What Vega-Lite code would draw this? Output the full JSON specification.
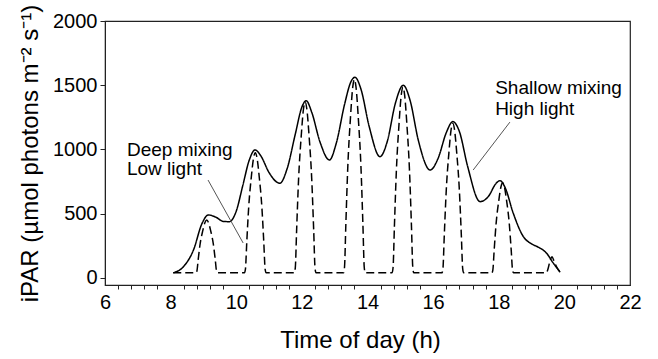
{
  "$schema": "https://vega.github.io/schema/vega-lite/v6.json",
  "width": 525,
  "height": 264,
  "autosize": {"type": "none"},
  "padding": {"left": 105, "top": 21, "right": 28, "bottom": 74},
  "background": "white",
  "config": {
    "view": {"stroke": "#222", "strokeWidth": 1.2},
    "font": "Liberation Sans",
    "axis": {
      "labelFont": "Liberation Sans",
      "titleFont": "Liberation Sans",
      "labelColor": "#000",
      "titleColor": "#000",
      "domainColor": "#222",
      "tickColor": "#222",
      "titleFontWeight": "normal",
      "grid": false
    }
  },
  "resolve": {"axis": {"x": "independent"}},
  "datasets": {
    "curves": [
      {"t": 8.08, "v": 40, "s": "shallow"},
      {"t": 8.4, "v": 90, "s": "shallow"},
      {"t": 8.7, "v": 220, "s": "shallow"},
      {"t": 8.95, "v": 420, "s": "shallow"},
      {"t": 9.15, "v": 490, "s": "shallow"},
      {"t": 9.4, "v": 470, "s": "shallow"},
      {"t": 9.6, "v": 440, "s": "shallow"},
      {"t": 9.79, "v": 438, "s": "shallow"},
      {"t": 10.0, "v": 520, "s": "shallow"},
      {"t": 10.2, "v": 720, "s": "shallow"},
      {"t": 10.4, "v": 920, "s": "shallow"},
      {"t": 10.57, "v": 996, "s": "shallow"},
      {"t": 10.75, "v": 950, "s": "shallow"},
      {"t": 11.0, "v": 820, "s": "shallow"},
      {"t": 11.33, "v": 737, "s": "shallow"},
      {"t": 11.55, "v": 850, "s": "shallow"},
      {"t": 11.8, "v": 1120, "s": "shallow"},
      {"t": 12.0, "v": 1330, "s": "shallow"},
      {"t": 12.13, "v": 1380, "s": "shallow"},
      {"t": 12.3, "v": 1290, "s": "shallow"},
      {"t": 12.55, "v": 1060, "s": "shallow"},
      {"t": 12.84, "v": 918, "s": "shallow"},
      {"t": 13.05, "v": 1050, "s": "shallow"},
      {"t": 13.3, "v": 1350, "s": "shallow"},
      {"t": 13.5, "v": 1530, "s": "shallow"},
      {"t": 13.62, "v": 1562, "s": "shallow"},
      {"t": 13.8, "v": 1470, "s": "shallow"},
      {"t": 14.05, "v": 1180, "s": "shallow"},
      {"t": 14.38, "v": 944, "s": "shallow"},
      {"t": 14.6, "v": 1060, "s": "shallow"},
      {"t": 14.85, "v": 1360, "s": "shallow"},
      {"t": 15.09, "v": 1500, "s": "shallow"},
      {"t": 15.3, "v": 1380, "s": "shallow"},
      {"t": 15.55, "v": 1070, "s": "shallow"},
      {"t": 15.91, "v": 840, "s": "shallow"},
      {"t": 16.15, "v": 930, "s": "shallow"},
      {"t": 16.4, "v": 1130, "s": "shallow"},
      {"t": 16.6, "v": 1217, "s": "shallow"},
      {"t": 16.8, "v": 1140, "s": "shallow"},
      {"t": 17.05, "v": 870, "s": "shallow"},
      {"t": 17.43, "v": 594, "s": "shallow"},
      {"t": 17.7, "v": 640, "s": "shallow"},
      {"t": 17.9, "v": 730, "s": "shallow"},
      {"t": 18.04, "v": 757, "s": "shallow"},
      {"t": 18.2, "v": 700, "s": "shallow"},
      {"t": 18.44, "v": 505, "s": "shallow"},
      {"t": 18.75, "v": 322, "s": "shallow"},
      {"t": 19.0, "v": 265, "s": "shallow"},
      {"t": 19.2, "v": 240, "s": "shallow"},
      {"t": 19.46, "v": 192, "s": "shallow"},
      {"t": 19.65, "v": 120, "s": "shallow"},
      {"t": 19.87, "v": 45, "s": "shallow"},

      {"t": 8.08, "v": 40, "s": "deep"},
      {"t": 8.77, "v": 40, "s": "deep"},
      {"t": 8.8, "v": 52, "s": "deep"},
      {"t": 8.84, "v": 142, "s": "deep"},
      {"t": 8.9, "v": 266, "s": "deep"},
      {"t": 8.98, "v": 368, "s": "deep"},
      {"t": 9.05, "v": 434, "s": "deep"},
      {"t": 9.1, "v": 450, "s": "deep"},
      {"t": 9.15, "v": 434, "s": "deep"},
      {"t": 9.22, "v": 368, "s": "deep"},
      {"t": 9.3, "v": 266, "s": "deep"},
      {"t": 9.36, "v": 142, "s": "deep"},
      {"t": 9.4, "v": 52, "s": "deep"},
      {"t": 9.43, "v": 40, "s": "deep"},
      {"t": 10.25, "v": 40, "s": "deep"},
      {"t": 10.28, "v": 68, "s": "deep"},
      {"t": 10.32, "v": 274, "s": "deep"},
      {"t": 10.38, "v": 554, "s": "deep"},
      {"t": 10.46, "v": 788, "s": "deep"},
      {"t": 10.53, "v": 938, "s": "deep"},
      {"t": 10.58, "v": 975, "s": "deep"},
      {"t": 10.63, "v": 938, "s": "deep"},
      {"t": 10.7, "v": 788, "s": "deep"},
      {"t": 10.78, "v": 554, "s": "deep"},
      {"t": 10.84, "v": 274, "s": "deep"},
      {"t": 10.88, "v": 68, "s": "deep"},
      {"t": 10.91, "v": 40, "s": "deep"},
      {"t": 11.77, "v": 40, "s": "deep"},
      {"t": 11.8, "v": 80, "s": "deep"},
      {"t": 11.84, "v": 372, "s": "deep"},
      {"t": 11.9, "v": 771, "s": "deep"},
      {"t": 11.98, "v": 1104, "s": "deep"},
      {"t": 12.05, "v": 1317, "s": "deep"},
      {"t": 12.1, "v": 1370, "s": "deep"},
      {"t": 12.15, "v": 1317, "s": "deep"},
      {"t": 12.22, "v": 1104, "s": "deep"},
      {"t": 12.3, "v": 771, "s": "deep"},
      {"t": 12.36, "v": 372, "s": "deep"},
      {"t": 12.4, "v": 80, "s": "deep"},
      {"t": 12.43, "v": 40, "s": "deep"},
      {"t": 13.27, "v": 40, "s": "deep"},
      {"t": 13.3, "v": 85, "s": "deep"},
      {"t": 13.34, "v": 416, "s": "deep"},
      {"t": 13.4, "v": 868, "s": "deep"},
      {"t": 13.48, "v": 1244, "s": "deep"},
      {"t": 13.55, "v": 1485, "s": "deep"},
      {"t": 13.6, "v": 1545, "s": "deep"},
      {"t": 13.65, "v": 1485, "s": "deep"},
      {"t": 13.72, "v": 1244, "s": "deep"},
      {"t": 13.8, "v": 868, "s": "deep"},
      {"t": 13.86, "v": 416, "s": "deep"},
      {"t": 13.9, "v": 85, "s": "deep"},
      {"t": 13.93, "v": 40, "s": "deep"},
      {"t": 14.75, "v": 40, "s": "deep"},
      {"t": 14.78, "v": 83, "s": "deep"},
      {"t": 14.82, "v": 401, "s": "deep"},
      {"t": 14.88, "v": 835, "s": "deep"},
      {"t": 14.96, "v": 1196, "s": "deep"},
      {"t": 15.03, "v": 1427, "s": "deep"},
      {"t": 15.08, "v": 1485, "s": "deep"},
      {"t": 15.13, "v": 1427, "s": "deep"},
      {"t": 15.2, "v": 1196, "s": "deep"},
      {"t": 15.28, "v": 835, "s": "deep"},
      {"t": 15.34, "v": 401, "s": "deep"},
      {"t": 15.38, "v": 83, "s": "deep"},
      {"t": 15.41, "v": 40, "s": "deep"},
      {"t": 16.27, "v": 40, "s": "deep"},
      {"t": 16.3, "v": 75, "s": "deep"},
      {"t": 16.34, "v": 331, "s": "deep"},
      {"t": 16.4, "v": 681, "s": "deep"},
      {"t": 16.48, "v": 972, "s": "deep"},
      {"t": 16.55, "v": 1158, "s": "deep"},
      {"t": 16.6, "v": 1205, "s": "deep"},
      {"t": 16.65, "v": 1158, "s": "deep"},
      {"t": 16.72, "v": 972, "s": "deep"},
      {"t": 16.8, "v": 681, "s": "deep"},
      {"t": 16.86, "v": 331, "s": "deep"},
      {"t": 16.9, "v": 75, "s": "deep"},
      {"t": 16.93, "v": 40, "s": "deep"},
      {"t": 17.79, "v": 40, "s": "deep"},
      {"t": 17.82, "v": 61, "s": "deep"},
      {"t": 17.86, "v": 215, "s": "deep"},
      {"t": 17.92, "v": 425, "s": "deep"},
      {"t": 18.0, "v": 600, "s": "deep"},
      {"t": 18.07, "v": 712, "s": "deep"},
      {"t": 18.12, "v": 740, "s": "deep"},
      {"t": 18.17, "v": 712, "s": "deep"},
      {"t": 18.24, "v": 600, "s": "deep"},
      {"t": 18.32, "v": 425, "s": "deep"},
      {"t": 18.38, "v": 215, "s": "deep"},
      {"t": 18.42, "v": 61, "s": "deep"},
      {"t": 18.45, "v": 40, "s": "deep"},
      {"t": 19.45, "v": 40, "s": "deep"},
      {"t": 19.5, "v": 70, "s": "deep"},
      {"t": 19.56, "v": 130, "s": "deep"},
      {"t": 19.62, "v": 165, "s": "deep"},
      {"t": 19.7, "v": 120, "s": "deep"},
      {"t": 19.8, "v": 70, "s": "deep"},
      {"t": 19.9, "v": 40, "s": "deep"}
    ],
    "labels": [
      {"t": 6.67, "v": 949, "text": "Deep mixing"},
      {"t": 6.67, "v": 801, "text": "Low light"},
      {"t": 17.89, "v": 1429, "text": "Shallow mixing"},
      {"t": 17.89, "v": 1268, "text": "High light"}
    ],
    "leaders": [
      {"t": 9.14, "v": 762, "t2": 10.21, "v2": 272},
      {"t": 18.34, "v": 1213, "t2": 17.22, "v2": 840}
    ]
  },
  "layer": [
    {
      "data": {"name": "curves"},
      "mark": {"type": "line", "interpolate": "monotone", "color": "#000", "strokeWidth": 1.5},
      "encoding": {
        "x": {
          "field": "t", "type": "quantitative",
          "scale": {"domain": [6, 22], "nice": false, "zero": false},
          "axis": {
            "orient": "bottom",
            "title": "Time of day (h)",
            "titleFontSize": 24,
            "titlePadding": 16,
            "titleX": 255,
            "labelFontSize": 20,
            "labelPadding": 7,
            "ticks": false,
            "labelFlush": false,
            "labelOverlap": false,
            "format": "d",
            "values": [6, 8, 10, 12, 14, 16, 18, 20, 22]
          }
        },
        "y": {
          "field": "v", "type": "quantitative",
          "scale": {"domain": [-55, 2000], "nice": false, "zero": false},
          "axis": {
            "title": "iPAR (µmol photons m⁻² s⁻¹)",
            "titleFontSize": 24,
            "titlePadding": 10,
            "labelFontSize": 20,
            "labelPadding": 3,
            "tickSize": 5,
            "labelFlush": false,
            "format": "d",
            "values": [0, 500, 1000, 1500, 2000]
          }
        },
        "detail": {"field": "s"},
        "strokeDash": {
          "field": "s", "type": "nominal",
          "scale": {"domain": ["shallow", "deep"], "range": [[1, 0], [8, 4]]},
          "legend": null
        }
      }
    },
    {
      "data": {"name": "leaders"},
      "mark": {"type": "rule", "color": "#555", "strokeWidth": 1},
      "encoding": {
        "x": {
          "field": "t", "type": "quantitative",
          "axis": {
            "orient": "bottom",
            "title": null,
            "labels": false,
            "tickSize": 4,
            "values": [6.4,6.8,7.2,7.6,8.4,8.8,9.2,9.6,10.4,10.8,11.2,11.6,12.4,12.8,13.2,13.6,14.4,14.8,15.2,15.6,16.4,16.8,17.2,17.6,18.4,18.8,19.2,19.6,20.4,20.8,21.2,21.6]
          }
        },
        "y": {"field": "v", "type": "quantitative"},
        "x2": {"field": "t2"},
        "y2": {"field": "v2"}
      }
    },
    {
      "data": {"name": "labels"},
      "mark": {"type": "text", "align": "left", "baseline": "alphabetic", "font": "Liberation Sans", "fontSize": 19, "color": "#000"},
      "encoding": {
        "x": {"field": "t", "type": "quantitative", "axis": null},
        "y": {"field": "v", "type": "quantitative"},
        "text": {"field": "text"}
      }
    }
  ]
}
